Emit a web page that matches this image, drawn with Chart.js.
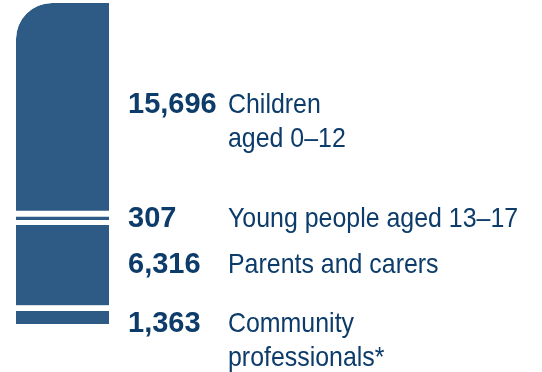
<!DOCTYPE html>
<html>
<head>
<meta charset="utf-8">
<script src="https://cdn.jsdelivr.net/npm/chart.js@4.4.0/dist/chart.umd.min.js"></script>
<style>
  body { margin: 0; background: #fff; }
  #wrap { width: 542px; height: 372px; }
</style>
</head>
<body>
<div id="wrap"><canvas id="myChart"></canvas></div>
<script>
// stacked from the bottom up
var groups = ['Community professionals*', 'Parents and carers', 'Young people aged 13–17', 'Children aged 0–12'];
var counts = [1363, 6316, 307, 15696];
var labelLines = [['Community', 'professionals*'], ['Parents and carers'], ['Young people aged 13–17'], ['Children', 'aged 0–12']];

var barColor = '#2e5a86';
var textColor = '#0d3c6a';
var total = counts.reduce(function (a, b) { return a + b; }, 0);

// white gaps between the pieces
var gaps = [{ top: 5.5 }, { top: 5 }, { top: 1 }, { bottom: 5 }];
// baseline of first text line relative to the middle of its piece
var nudge = [17, 10, 9, 4];

var sideLabels = {
  id: 'sideLabels',
  afterDatasetsDraw: function (chart) {
    var ctx = chart.ctx;
    var squeeze = 0.89; // no narrow face installed, so squash the regular one
    ctx.save();
    ctx.fillStyle = textColor;
    ctx.textBaseline = 'alphabetic';
    ctx.textAlign = 'left';
    counts.forEach(function (v, i) {
      var el = chart.getDatasetMeta(i).data[0];
      var y = (el.y + el.base) / 2 + nudge[i];
      ctx.font = 'bold 29px "Liberation Sans", Arial, sans-serif';
      ctx.fillText(v.toLocaleString('en-US'), 128, y);
      ctx.font = '28px "Liberation Sans", Arial, sans-serif';
      labelLines[i].forEach(function (line, k) {
        ctx.save();
        ctx.translate(228, y + k * 34);
        ctx.scale(squeeze, 1);
        ctx.fillText(line, 0, 0);
        ctx.restore();
      });
    });
    ctx.restore();
  }
};

new Chart('myChart', {
  type: 'bar',
  data: {
    labels: ['Participants'],
    datasets: counts.map(function (v, i) {
      return {
        label: groups[i],
        data: [v],
        backgroundColor: barColor,
        borderColor: '#ffffff',
        borderWidth: gaps[i],
        borderSkipped: false,
        borderRadius: i === 3 ? { topLeft: 36, topRight: 0, bottomLeft: 0, bottomRight: 0 } : 0,
        inflateAmount: 0,
        barPercentage: 1,
        categoryPercentage: 1
      };
    })
  },
  options: {
    responsive: true,
    maintainAspectRatio: false,
    animation: false,
    layout: { padding: { left: 16, right: 433, top: 3, bottom: 48 } },
    plugins: { legend: { display: false }, tooltip: { enabled: false } },
    scales: {
      x: { stacked: true, display: false },
      y: { stacked: true, display: false, min: 0, max: total }
    }
  },
  plugins: [sideLabels]
});
</script>
</body>
</html>
